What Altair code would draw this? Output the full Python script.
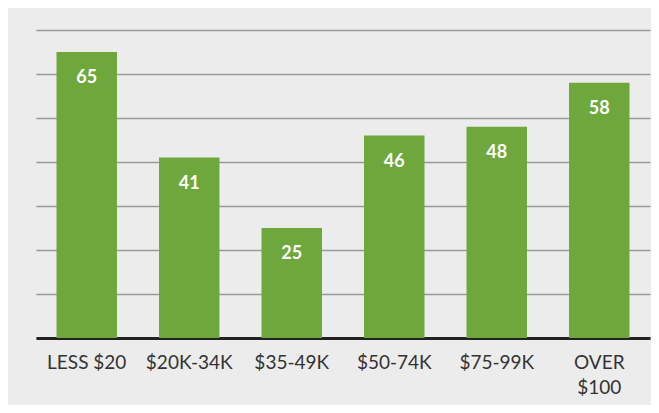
import altair as alt
import pandas as pd

categories = ["LESS $20", "$20K-34K", "$35-49K", "$50-74K", "$75-99K", "OVER|$100"]
values = [65, 41, 25, 46, 48, 58]
grid_values = [0, 10, 20, 30, 40, 50, 60, 70]

df = pd.DataFrame({"cat": categories, "val": values})

x = alt.X("cat:N", sort=categories, title=None,
          scale=alt.Scale(paddingInner=0.41, paddingOuter=0.2),
          axis=alt.Axis(labelAngle=0, labelFont="Lato", labelFontSize=19,
                        labelColor="#333333", labelPadding=15, ticks=False,
                        domainColor="#222222", domainWidth=3, labelLineHeight=25,
                        labelExpr="split(datum.label, '|')"))
y = alt.Y("val:Q", title=None,
          scale=alt.Scale(domain=[0, 70], nice=False),
          axis=alt.Axis(values=grid_values, labels=False, ticks=False, domain=False,
                        gridColor="#9a9a9a", gridWidth=1.5))

bars = alt.Chart(df).mark_bar(color="#6ea83c").encode(x=x, y=y)
text = alt.Chart(df).mark_text(color="white", font="Lato", fontSize=18,
                               fontWeight="bold", dy=26).encode(
    x=alt.X("cat:N", sort=categories), y="val:Q", text="val:Q")

chart = (bars + text).properties(
    width=614, height=308,
    background="#ececec",
    padding={"left": 28, "top": 22, "right": 1, "bottom": 67},
    autosize=alt.AutoSizeParams(type="none"),
).configure_view(stroke=None)

chart.save("out.html", embed_options={"renderer": "svg", "actions": False})
